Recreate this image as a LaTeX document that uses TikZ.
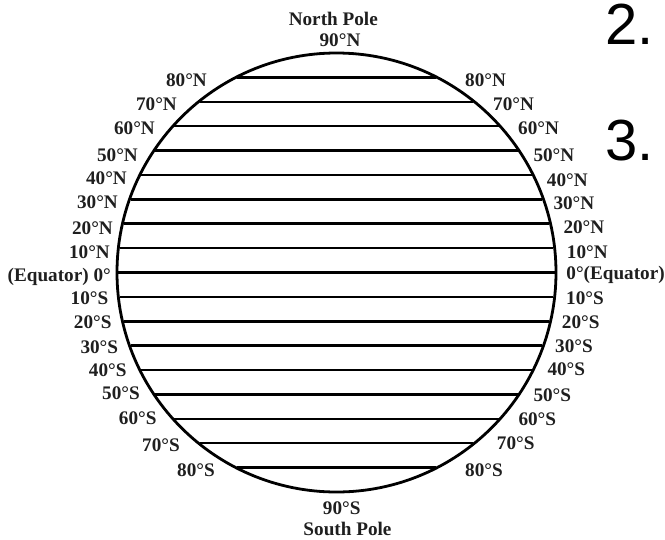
\documentclass[tikz,border=0pt]{standalone}
\usepackage{fontspec}
\setmainfont{Liberation Serif}
\newfontfamily\numfont{Liberation Sans}
\begin{document}
\begin{tikzpicture}[x=1pt,y=-1pt,
  lat/.style={font=\fontsize{19.2}{20}\selectfont\bfseries, inner sep=0pt, text=black!88},
  latL/.style={lat, anchor=base east},
  latR/.style={lat, anchor=base west},
  pole/.style={lat, anchor=base},
  big/.style={font=\numfont\fontsize{58}{58}\selectfont, inner sep=0pt, anchor=base west},
  rim/.style={line width=2.8pt},
  parallel/.style={line width=2.5pt}]
\useasboundingbox (0,0) rectangle (665,539);
\coordinate (c) at (336.5,272.5);
\draw[rim] (c) circle[radius=219.5];
\foreach \k in {-8,...,8}{
  \pgfmathsetmacro\hw{219.5*sqrt(1-(\k/9)^2)-1.2}
  \pgfmathsetmacro\yy{272.5+\k*24.389}
  \coordinate (w\k) at (336.5-\hw,\yy);
  \coordinate (e\k) at (336.5+\hw,\yy);
  \draw[parallel] (w\k) -- (e\k);
}
% poles
\node[pole] (np) at (333.3,25) {North Pole};
\node[pole] (n90) at (340,46.7) {90°N};
\node[pole] (s90) at (341.7,514) {90°S};
\node[pole] (sp) at (347.5,535.5) {South Pole};
% left labels
\node[latL] (l80n) at (207,86.3) {80°N};
\node[latL] (l70n) at (177,110.3) {70°N};
\node[latL] (l60n) at (155,134.8) {60°N};
\node[latL] (l50n) at (138,161.3) {50°N};
\node[latL] (l40n) at (127,184.3) {40°N};
\node[latL] (l30n) at (118,208) {30°N};
\node[latL] (l20n) at (113,234) {20°N};
\node[latL] (l10n) at (110,258) {10°N};
\node[latL] (leq) at (111,281.3) {(Equator) 0°};
\node[latL] (l10s) at (108.5,304.6) {10°S};
\node[latL] (l20s) at (111.7,328) {20°S};
\node[latL] (l30s) at (118.3,353) {30°S};
\node[latL] (l40s) at (126.7,376.3) {40°S};
\node[latL] (l50s) at (140,399.6) {50°S};
\node[latL] (l60s) at (156.7,424.6) {60°S};
\node[latL] (l70s) at (180,451.3) {70°S};
\node[latL] (l80s) at (215,476.3) {80°S};
% right labels
\node[latR] (r80n) at (465,86.3) {80°N};
\node[latR] (r70n) at (493,110.3) {70°N};
\node[latR] (r60n) at (518,134.6) {60°N};
\node[latR] (r50n) at (533.3,161.3) {50°N};
\node[latR] (r40n) at (546.7,186.3) {40°N};
\node[latR] (r30n) at (553.3,209) {30°N};
\node[latR] (r20n) at (563.3,233) {20°N};
\node[latR] (r10n) at (566.7,258) {10°N};
\node[latR] (req) at (566.2,279.6) {0°(Equator)};
\node[latR] (r10s) at (566,304.6) {10°S};
\node[latR] (r20s) at (561.7,328) {20°S};
\node[latR] (r30s) at (555,352) {30°S};
\node[latR] (r40s) at (547.3,375.6) {40°S};
\node[latR] (r50s) at (533.3,401.3) {50°S};
\node[latR] (r60s) at (518.3,425.6) {60°S};
\node[latR] (r70s) at (496.7,449.6) {70°S};
\node[latR] (r80s) at (465,476.3) {80°S};
% big numbers
\node[big] (two) at (605,44.5) {2.};
\node[big] (three) at (605,160) {3.};
\end{tikzpicture}
\end{document}
